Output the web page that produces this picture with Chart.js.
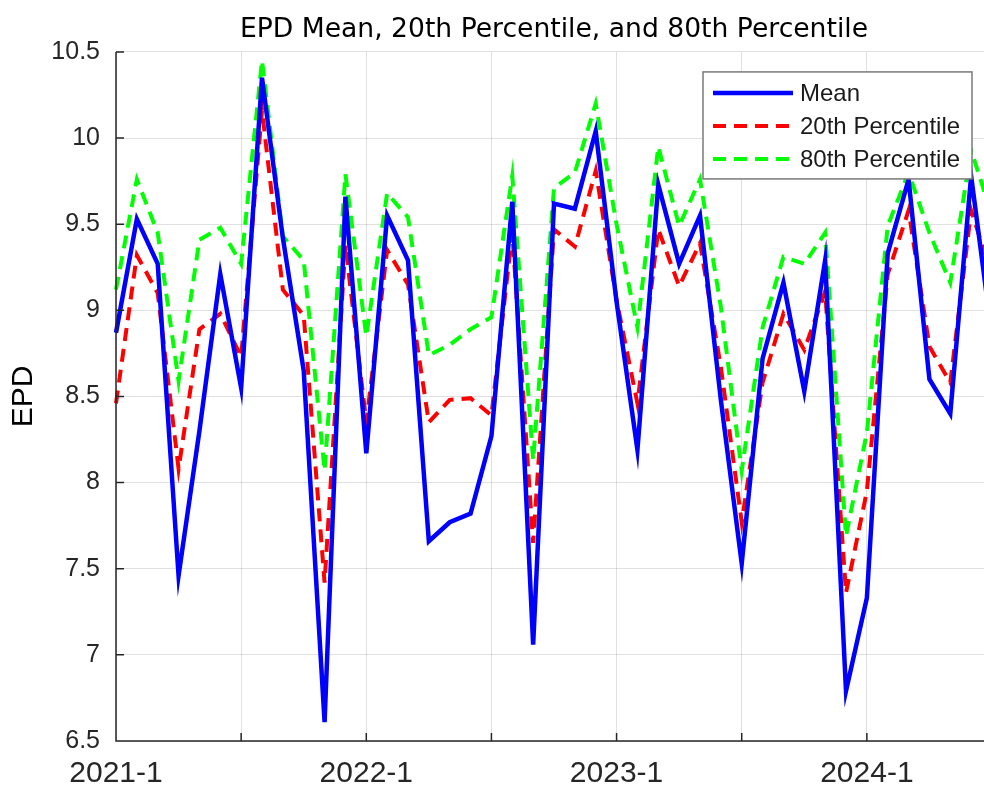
<!DOCTYPE html>
<html>
<head>
<meta charset="utf-8">
<script src="https://cdn.jsdelivr.net/npm/chart.js@4"></script>
<style>
html, body { margin: 0; padding: 0; overflow: hidden; background: #fff; }
#wrap { width: 1007px; height: 787px; }
</style>
</head>
<body>
<div id="wrap"><canvas id="myChart" width="1007" height="787"></canvas></div>
<script>
const months = [
    '2021-1','2021-2','2021-3','2021-4','2021-5','2021-6','2021-7','2021-8','2021-9','2021-10','2021-11','2021-12',
    '2022-1','2022-2','2022-3','2022-4','2022-5','2022-6','2022-7','2022-8','2022-9','2022-10','2022-11','2022-12',
    '2023-1','2023-2','2023-3','2023-4','2023-5','2023-6','2023-7','2023-8','2023-9','2023-10','2023-11','2023-12',
    '2024-1','2024-2','2024-3','2024-4','2024-5','2024-6','2024-7'
];
const yearLabels = ['2021-1', '2022-1', '2023-1', '2024-1'];

const meanEPD = [8.87, 9.53, 9.27, 7.46, 8.30, 9.21, 8.55, 10.35, 9.42, 8.65, 6.61, 9.66,
                 8.17, 9.55, 9.29, 7.66, 7.77, 7.82, 8.27, 9.63, 7.06, 9.62, 9.59, 10.04,
                 9.05, 8.19, 9.73, 9.27, 9.55, 8.48, 7.53, 8.72, 9.16, 8.53, 9.29, 6.79,
                 7.33, 9.33, 9.76, 8.60, 8.40, 9.78, 8.85];
const p20EPD = [8.46, 9.32, 9.10, 8.08, 8.89, 8.98, 8.73, 10.16, 9.12, 8.97, 7.42, 9.38,
                8.35, 9.35, 9.15, 8.35, 8.48, 8.49, 8.39, 9.45, 7.65, 9.47, 9.37, 9.81,
                9.06, 8.46, 9.47, 9.14, 9.39, 8.67, 7.77, 8.58, 8.98, 8.77, 9.11, 7.36,
                7.95, 9.21, 9.58, 8.79, 8.58, 9.58, 9.20];
const p80EPD = [9.12, 9.76, 9.45, 8.59, 9.41, 9.48, 9.27, 10.45, 9.43, 9.29, 8.07, 9.79,
                8.85, 9.68, 9.54, 8.74, 8.80, 8.89, 8.96, 9.78, 8.13, 9.71, 9.80, 10.20,
                9.50, 8.90, 9.95, 9.49, 9.76, 9.02, 8.07, 8.90, 9.31, 9.27, 9.45, 7.69,
                8.29, 9.49, 9.80, 9.45, 9.16, 9.93, 9.55];

const axisColor = '#262626';
const gridColor = 'rgba(0,0,0,0.12)';

// MATLAB style: axis lines + ticks pointing inward
const inTicks = {
    id: 'inTicks',
    afterDatasetsDraw(chart) {
        const {ctx, chartArea: a, scales: {x, y}} = chart;
        ctx.save();
        ctx.strokeStyle = axisColor;
        ctx.lineWidth = 1.5;
        ctx.beginPath();
        y.ticks.forEach(t => {
            const py = y.getPixelForValue(t.value);
            ctx.moveTo(a.left, py);
            ctx.lineTo(a.left + 8, py);
        });
        months.forEach((m, i) => {
            if (i % 6) return;
            const px = x.getPixelForValue(i);
            ctx.moveTo(px, a.bottom);
            ctx.lineTo(px, a.bottom - 8);
        });
        ctx.moveTo(a.left, a.top);
        ctx.lineTo(a.left, a.bottom);
        ctx.lineTo(a.right, a.bottom);
        ctx.stroke();
        ctx.restore();
    }
};

const boxLegend = {
    id: 'boxLegend',
    afterDraw(chart) {
        const {ctx, chartArea: a} = chart;
        const w = 269, h = 107;
        const left = a.right - 20 - w, top = a.top + 20;
        ctx.save();
        ctx.fillStyle = '#fff';
        ctx.fillRect(left, top, w, h);
        ctx.strokeStyle = '#7a7a7a';
        ctx.lineWidth = 1.5;
        ctx.strokeRect(left, top, w, h);
        ctx.font = '24px "Liberation Sans", Arial, sans-serif';
        ctx.textBaseline = 'middle';
        chart.data.datasets.forEach((ds, i) => {
            const yy = top + 21 + i * 33;
            ctx.beginPath();
            ctx.strokeStyle = ds.borderColor;
            ctx.lineWidth = ds.borderWidth;
            ctx.setLineDash(ds.borderDash || []);
            ctx.moveTo(left + 10, yy);
            ctx.lineTo(left + 90, yy);
            ctx.stroke();
            ctx.setLineDash([]);
            ctx.fillStyle = '#1a1a1a';
            ctx.fillText(ds.label, left + 97, yy + 1);
        });
        ctx.restore();
    }
};

const ctx = document.getElementById('myChart').getContext('2d');
const myChart = new Chart(ctx, {
    type: 'line',
    data: {
        labels: months,
        datasets: [
            {
                label: 'Mean',
                data: meanEPD,
                borderColor: '#0000ff',
                borderWidth: 4.5,
                pointRadius: 0,
                tension: 0
            },
            {
                label: '20th Percentile',
                data: p20EPD,
                borderColor: '#ff0000',
                borderWidth: 4,
                borderDash: [13, 8],
                pointRadius: 0,
                tension: 0
            },
            {
                label: '80th Percentile',
                data: p80EPD,
                borderColor: '#00ff00',
                borderWidth: 4,
                borderDash: [13, 8],
                pointRadius: 0,
                tension: 0
            }
        ]
    },
    options: {
        responsive: false,
        animation: false,
        layout: { padding: 0 },
        plugins: {
            legend: { display: false },
            tooltip: { enabled: false },
            title: {
                display: true,
                fullSize: false,
                text: 'EPD Mean, 20th Percentile, and 80th Percentile',
                color: '#000',
                font: { family: '"DejaVu Sans", sans-serif', size: 26.6, weight: 'normal', lineHeight: 1.2 },
                padding: { top: 14, bottom: 6 }
            }
        },
        scales: {
            x: {
                offset: false,
                grid: {
                    drawTicks: false,
                    color: c => (c.index % 6 === 0 ? gridColor : 'transparent')
                },
                border: { display: false },
                ticks: {
                    autoSkip: false,
                    maxRotation: 0,
                    padding: 15,
                    color: axisColor,
                    font: { family: '"Liberation Sans", Arial, sans-serif', size: 30 },
                    callback: function (v, i) {
                        const m = months[i];
                        return yearLabels.includes(m) ? m : '';
                    }
                },
                afterFit: s => { s.height = 46; }
            },
            y: {
                min: 6.5,
                max: 10.5,
                grid: { drawTicks: false, color: gridColor },
                border: { display: false },
                ticks: {
                    stepSize: 0.5,
                    padding: 16,
                    color: axisColor,
                    font: { family: '"Liberation Sans", Arial, sans-serif', size: 25 },
                    callback: v => String(v)
                },
                title: {
                    display: true,
                    text: 'EPD',
                    color: '#000',
                    font: { family: '"Liberation Sans", Arial, sans-serif', size: 30 },
                    padding: { top: 6, bottom: 0 }
                },
                afterFit: s => { s.width = 116; }
            }
        }
    },
    plugins: [inTicks, boxLegend]
});
</script>
</body>
</html>
